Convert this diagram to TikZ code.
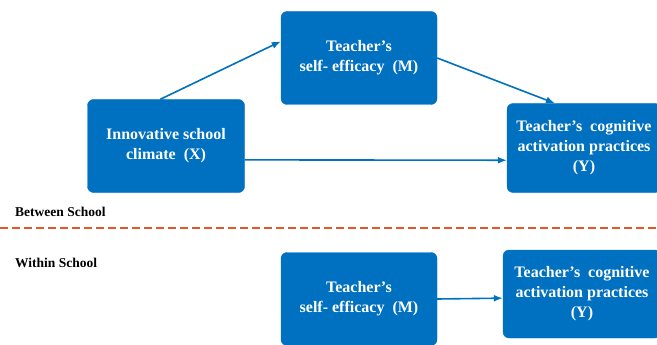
\documentclass[tikz,border=0pt]{standalone}
\usepackage{fontspec}
\setmainfont{Liberation Serif}
\usetikzlibrary{arrows.meta}
\definecolor{boxblue}{RGB}{0,112,192}
\definecolor{cutorange}{RGB}{226,88,38}
\begin{document}
\begin{tikzpicture}
  [x=1pt,y=-1pt,every node/.style={font=\bfseries}]
  \tikzstyle{var} = [fill=boxblue,draw=boxblue,rounded corners=6pt,text=white,align=center,
    font=\fontsize{16}{20}\selectfont\bfseries,inner sep=0pt]
  \tikzstyle{path} = [draw=boxblue,line width=1.6pt,-{Latex[length=9pt,width=7pt]}]
  \tikzstyle{level} = [anchor=west,font=\fontsize{13.5}{15}\selectfont\bfseries,inner sep=0pt]
  \useasboundingbox (0,0) rectangle (657,345);
  \node[var,minimum width=157pt,minimum height=93pt] (x) at (166,146) {Innovative school\\climate\ \ (X)};
  \node[var,minimum width=156pt,minimum height=93pt] (m) at (359,58) {Teacher's\\self- efficacy\ \ (M)};
  \node[var,minimum width=154pt,minimum height=89pt] (y) at (584,148) {Teacher's\ \ cognitive\\activation practices\\(Y)};
  \node[var,minimum width=156pt,minimum height=93pt] (m2) at (359,299) {Teacher's\\self- efficacy\ \ (M)};
  \node[var,minimum width=158pt,minimum height=88pt] (y2) at (582,294) {Teacher's\ \ cognitive\\activation practices\\(Y)};
  \node[level] (bs) at (15,212) {Between School};
  \node[level] (ws) at (15,263) {Within School};
  \coordinate (cutl) at (0,228);
  \coordinate (cutr) at (657,228);
  \draw[cutorange,line width=2pt,dash pattern=on 8pt off 4pt] (cutl) -- (cutr);
\foreach \source /\dest in {x.{97}/m.{168},m.east/y.{123},x.{-10}/y.{189},m2.east/y2.{183}}
   \draw[path] (\source) -- (\dest);
\end{tikzpicture}
\end{document}
